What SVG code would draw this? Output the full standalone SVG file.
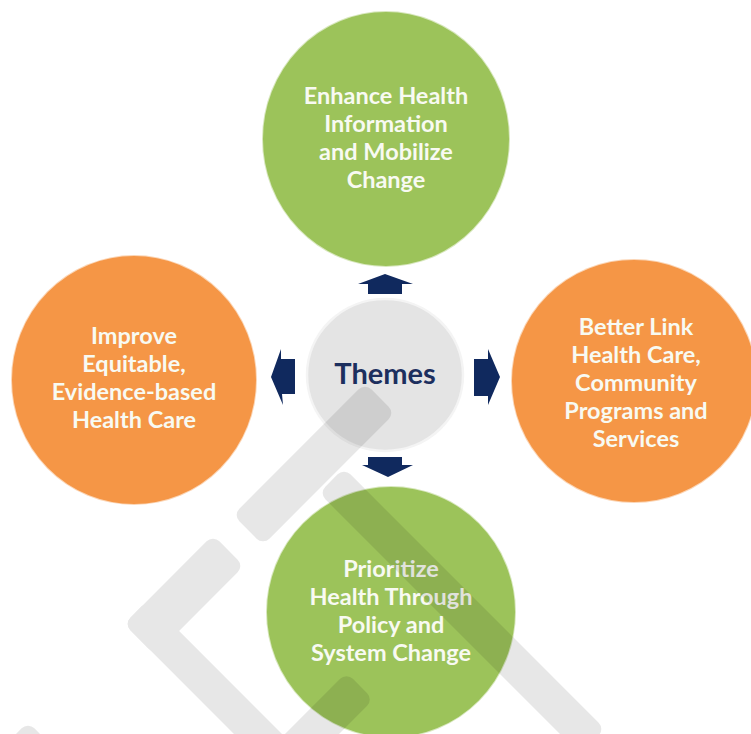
<svg xmlns="http://www.w3.org/2000/svg" width="751" height="734" viewBox="0 0 751 734">
  <style>
    .green { fill: #9cc35a; stroke: #ffffff; stroke-opacity: 0.6; stroke-width: 2; }
    .orange { fill: #f59646; stroke: #ffffff; stroke-opacity: 0.6; stroke-width: 2; }
    .hub { fill: #e4e4e4; stroke: #f4f4f4; stroke-width: 2.5; }
    .lbl { font-family: Lato, "Liberation Sans", sans-serif; font-weight: 700; font-size: 23.5px; fill: #f8faf2; text-anchor: middle; }
    .hubtxt { font-family: Lato, "Liberation Sans", sans-serif; font-weight: 700; font-size: 29px; fill: #1c2f5e; text-anchor: middle; }
    .arrow { fill: #10295e; }
    .wm { fill: #000000; }
  </style>
  <rect width="751" height="734" fill="#ffffff"/>

  <g id="node-enhance">
    <ellipse class="green" cx="386" cy="139" rx="124" ry="128"/>
    <text class="lbl" x="386" y="104">Enhance Health</text>
    <text class="lbl" x="386" y="132">Information</text>
    <text class="lbl" x="386" y="160">and Mobilize</text>
    <text class="lbl" x="386" y="188">Change</text>
  </g>

  <g id="node-improve">
    <ellipse class="orange" cx="134" cy="380" rx="123" ry="125"/>
    <text class="lbl" x="134" y="344">Improve</text>
    <text class="lbl" x="134" y="372">Equitable,</text>
    <text class="lbl" x="134" y="400">Evidence-based</text>
    <text class="lbl" x="134" y="428">Health Care</text>
  </g>

  <g id="node-better-link">
    <ellipse class="orange" cx="634" cy="381" rx="123" ry="122"/>
    <text class="lbl" x="636" y="335">Better Link</text>
    <text class="lbl" x="636" y="363">Health Care,</text>
    <text class="lbl" x="636" y="391">Community</text>
    <text class="lbl" x="636" y="419">Programs and</text>
    <text class="lbl" x="636" y="447">Services</text>
  </g>

  <g id="node-prioritize">
    <ellipse class="green" cx="391" cy="612" rx="125" ry="126"/>
    <text class="lbl" x="391" y="577">Prioritize</text>
    <text class="lbl" x="391" y="605">Health Through</text>
    <text class="lbl" x="391" y="633">Policy and</text>
    <text class="lbl" x="391" y="661">System Change</text>
  </g>

  <g id="node-themes">
    <ellipse class="hub" cx="385" cy="375" rx="78" ry="76"/>
    <text class="hubtxt" x="385" y="384">Themes</text>
  </g>

  <g id="connectors">
    <polygon class="arrow" points="368,294 368,284 358,284 385,274 413,284 402,284 402,294"/>
    <polygon class="arrow" points="368,457 402,457 402,465 413,465 388,477 362,465 368,465"/>
    <polygon class="arrow" points="295,359 295,394 282,394 283,405 271,377 281,349 281,359"/>
    <polygon class="arrow" points="474,359 488,359 488,349 500,377 488,405 488,396 474,396"/>
  </g>

  <g id="watermark" opacity="0.09">
    <g transform="rotate(45)">
      <rect class="wm" x="528.92" y="12.73" width="42.43" height="186.68" rx="9"/>
      <rect class="wm" x="574.17" y="87.68" width="369.11" height="35.36" rx="9"/>
      <rect class="wm" x="528.92" y="227.69" width="43.84" height="125.87" rx="9"/>
      <rect class="wm" x="528.92" y="319.61" width="255.97" height="33.94" rx="9"/>
      <rect class="wm" x="720.55" y="230.52" width="38.18" height="207.89" rx="9"/>
      <rect class="wm" x="530.33" y="490.73" width="282.84" height="35.36" rx="9"/>
    </g>
  </g>
</svg>
